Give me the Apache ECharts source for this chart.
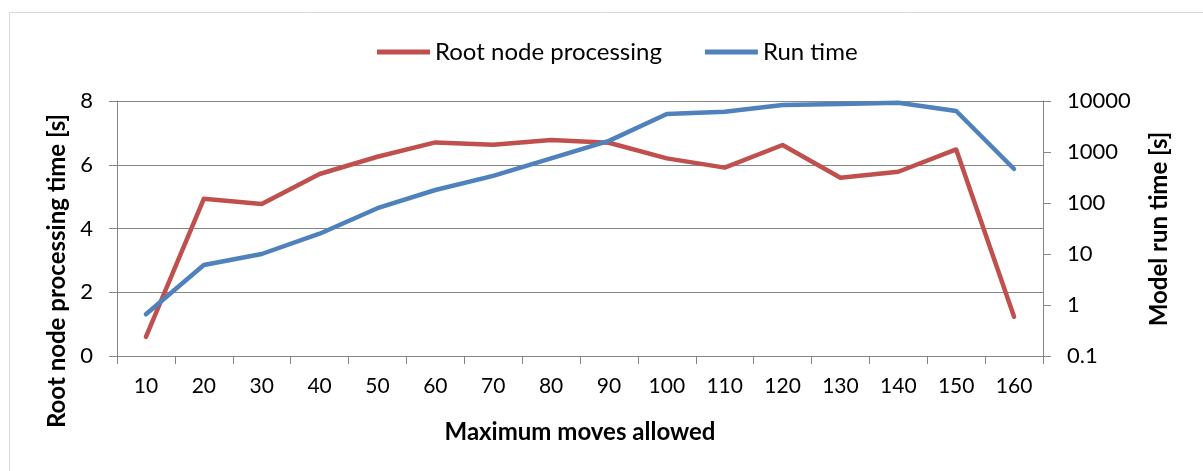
<!DOCTYPE html>
<html>
<head>
<meta charset="utf-8">
<script src="https://cdn.jsdelivr.net/npm/echarts@6/dist/echarts.min.js"></script>
<style>
html,body{margin:0;padding:0;background:#fff;}
#chart{width:1203px;height:471px;}
</style>
</head>
<body>
<div id="chart"></div>
<script>
const categories = ['10','20','30','40','50','60','70','80','90','100','110','120','130','140','150','160'];
const rootNodeProcessing = [0.6, 4.93, 4.77, 5.71, 6.25, 6.70, 6.63, 6.78, 6.69, 6.20, 5.91, 6.62, 5.59, 5.78, 6.48, 1.23];
const runTime = [0.66, 6.1, 10, 25, 79, 180, 340, 750, 1650, 5560, 6170, 8350, 8770, 9260, 6370, 464];
const leftTicks = [0, 2, 4, 6, 8];
const rightTicks = [0.1, 1, 10, 100, 1000, 10000];

const FONT = 'Lato';
const chart = echarts.init(document.getElementById('chart'), null, {renderer: 'canvas'});
const axisGray = '#868686';

chart.setOption({
  animation: false,
  backgroundColor: '#ffffff',
  textStyle: {fontFamily: FONT},
  grid: {left: 117, right: 160, top: 101, bottom: 115, containLabel: false},
  legend: {
    left: 372, top: 35,
    icon: 'rect', itemWidth: 53, itemHeight: 5, itemGap: 43,
    textStyle: {fontFamily: FONT, fontSize: 24, color: '#000', padding: [0, 0, 0, 0]},
    data: ['Root node processing', 'Run time']
  },
  xAxis: {
    type: 'category',
    data: categories,
    boundaryGap: true,
    axisLine: {lineStyle: {color: axisGray, width: 1}},
    axisTick: {show: true, alignWithLabel: false, length: 8, inside: false, lineStyle: {color: axisGray}},
    axisLabel: {color: '#000', fontSize: 21, fontFamily: FONT, margin: 20, interval: 0},
    splitLine: {show: false}
  },
  yAxis: [
    {
      type: 'value', min: leftTicks[0], max: leftTicks[leftTicks.length - 1], interval: 2,
      position: 'left',
      axisLine: {show: true, lineStyle: {color: axisGray, width: 1}},
      axisTick: {show: true, length: 8, lineStyle: {color: axisGray}},
      axisLabel: {color: '#000', fontSize: 22, fontFamily: FONT, margin: 24},
      splitLine: {show: true, lineStyle: {color: axisGray, width: 1}}
    },
    {
      type: 'log', logBase: 10, min: rightTicks[0], max: rightTicks[rightTicks.length - 1],
      position: 'right',
      axisLine: {show: true, lineStyle: {color: axisGray, width: 1}},
      axisTick: {show: true, length: 8, lineStyle: {color: axisGray}},
      axisLabel: {color: '#000', fontSize: 22, fontFamily: FONT, margin: 24,
        formatter: function (v) { return String(Math.round(v * 10) / 10); }},
      splitLine: {show: false}
    }
  ],
  series: [
    {
      name: 'Root node processing', type: 'line', yAxisIndex: 0,
      data: rootNodeProcessing, symbol: 'none', smooth: false,
      lineStyle: {color: '#C0504D', width: 4.5, cap: 'round', join: 'round'},
      itemStyle: {color: '#C0504D'}
    },
    {
      name: 'Run time', type: 'line', yAxisIndex: 1,
      data: runTime, symbol: 'none', smooth: false,
      lineStyle: {color: '#4F81BD', width: 4.5, cap: 'round', join: 'round'},
      itemStyle: {color: '#4F81BD'}
    }
  ],
  graphic: [
    {type: 'rect', left: 7, top: 10, z: -10, silent: true,
      shape: {width: 1300, height: 600}, style: {fill: 'none', stroke: '#d9d9d9', lineWidth: 1}},
    {type: 'text', x: 57, y: 271, rotation: Math.PI / 2, silent: true,
      style: {text: 'Root node processing time [s]', font: 'bold 24px ' + FONT, fill: '#000', align: 'center', verticalAlign: 'middle'}},
    {type: 'text', x: 1159, y: 229, rotation: Math.PI / 2, silent: true,
      style: {text: 'Model run time [s]', font: 'bold 24px ' + FONT, fill: '#000', align: 'center', verticalAlign: 'middle'}},
    {type: 'text', x: 580, y: 432, silent: true,
      style: {text: 'Maximum moves allowed', font: 'bold 24px ' + FONT, fill: '#000', align: 'center', verticalAlign: 'middle'}}
  ]
});
</script>
</body>
</html>
